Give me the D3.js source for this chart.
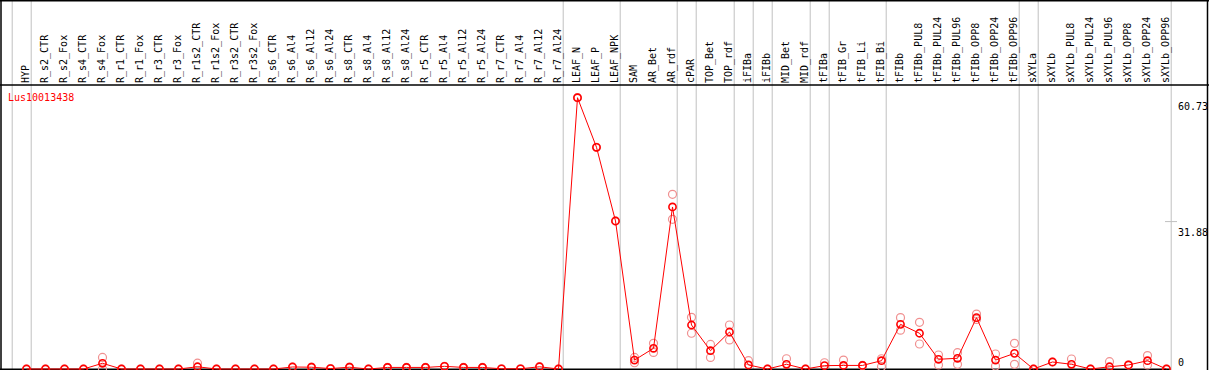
<!DOCTYPE html>
<html><head><meta charset="utf-8">
<script src="https://cdn.jsdelivr.net/npm/d3@7"></script>
<style>
html,body{margin:0;padding:0;background:#fff;}
svg{display:block;}
text{font-family:"DejaVu Sans Mono","Liberation Mono",monospace;font-size:10px;}
</style></head>
<body>
<svg id="c" width="1209" height="370"></svg>
<script>
const geneName = "Lus10013438";
const categories = ["HYP","R_s2_CTR","R_s2_Fox","R_s4_CTR","R_s4_Fox","R_r1_CTR","R_r1_Fox","R_r3_CTR","R_r3_Fox","R_r1s2_CTR","R_r1s2_Fox","R_r3s2_CTR","R_r3s2_Fox","R_s6_CTR","R_s6_Al4","R_s6_Al12","R_s6_Al24","R_s8_CTR","R_s8_Al4","R_s8_Al12","R_s8_Al24","R_r5_CTR","R_r5_Al4","R_r5_Al12","R_r5_Al24","R_r7_CTR","R_r7_Al4","R_r7_Al12","R_r7_Al24","LEAF_N","LEAF_P","LEAF_NPK","SAM","AR_Bet","AR_rdf","cPAR","TOP_Bet","TOP_rdf","iFIBa","iFIBb","MID_Bet","MID_rdf","tFIBa","tFIB_Gr","tFIB_Li","tFIB_Bi","tFIBb","tFIBb_PUL8","tFIBb_PUL24","tFIBb_PUL96","tFIBb_OPP8","tFIBb_OPP24","tFIBb_OPP96","sXYLa","sXYLb","sXYLb_PUL8","sXYLb_PUL24","sXYLb_PUL96","sXYLb_OPP8","sXYLb_OPP24","sXYLb_OPP96"];
const groupSizes = [1,28,3,3,1,2,1,1,2,1,3,7,1,7];
const means = [0,0,0,0,1.28,0,0,0,0,0.5,0,0,0,0,0.45,0.4,0.1,0.4,0,0.35,0.35,0.35,0.6,0.35,0.35,0.05,0.05,0.5,0,
  60.73,49.63,33.13, 2.0,4.63,36.27, 9.85, 4.1,8.28, 0.9, 0, 1.05,0, 0.75, 0.8,0.8,1.86,
  10.0,8.0,2.17,2.4,11.5,2.0,3.5, 0, 1.57,1.05,0,0.5,0.9,1.86,0];
const replicates = [[0],[0],[0],[0],[2.6,0],[0],[0],[0],[0],[1.3],[0],[0],[0],[0],[0.45],[0.4],[0.1],[0.4],[0],[0.35],[0.35],[0.35],[0.6],[0.35],[0.35],[0.05],[0.05],[0.5],[0],
  [60.73],[49.63],[33.13], [2.6,1.4],[5.75,3.7],[39.1,33.5], [11.57,8.0], [5.5,2.6],[9.85,6.5], [1.86],[0], [2.3],[0], [1.4], [2.0],[0.8],[2.3,0.5],
  [11.5,8.7],[10.45,5.6],[3.13,0.9],[3.65,1.05],[12.3,11.1],[3.36,0.67],[5.75,1.05], [0], [1.57],[2.24],[0],[1.64],[0.9],[3.0,0.9],[0]];
const yTicks = [60.73, 31.88, 0];

const svg = d3.select("#c");
const W = 1209, H = 370;
const headerY = 85, baseY = 369;

const x = d3.scalePoint().domain(categories).range([26.5, 1166.5]);
const step = x.step();
const y = d3.scaleLinear().domain([0, 60.73]).range([baseY, 97.7]);

// separators
const sepIdx = [-1];
let acc = 0;
groupSizes.forEach(s => { acc += s; sepIdx.push(acc - 1); });
svg.append("g").selectAll("line").data(sepIdx).join("line")
  .attr("x1", i => x(categories[0]) + i*step + 4.2 + 0.5)
  .attr("x2", i => x(categories[0]) + i*step + 4.2 + 0.5)
  .attr("y1", 0).attr("y2", H)
  .attr("stroke", "#c0c0c0").attr("stroke-width", 1);

// frame
const frame = svg.append("g").attr("stroke", "#000").attr("stroke-width", 1.5);
frame.append("line").attr("x1", 0).attr("x2", W).attr("y1", 0.75).attr("y2", 0.75);
frame.append("line").attr("x1", 0).attr("x2", W).attr("y1", headerY).attr("y2", headerY);
frame.append("line").attr("x1", 1).attr("x2", 1).attr("y1", 0).attr("y2", H);
frame.append("line").attr("x1", 1207.5).attr("x2", 1207.5).attr("y1", 0).attr("y2", H);
frame.append("line").attr("x1", 0).attr("x2", 1170).attr("y1", baseY + 0.25).attr("y2", baseY + 0.25);

// category labels
svg.append("g").selectAll("text").data(categories).join("text")
  .attr("transform", d => `translate(${x(d) + 2.5},83) rotate(-90)`)
  .attr("text-anchor", "start")
  .attr("fill", "#000")
  .text(d => d);

// gene name
svg.append("text").attr("x", 8).attr("y", 101).attr("fill", "#ff0000").text(geneName);

// y labels on right
const yLabOff = {"60.73": 12, "31.88": 9, "0": -3.5};
svg.append("g").selectAll("text").data(yTicks).join("text")
  .attr("x", 1178).attr("y", d => y(d) + yLabOff[String(d)])
  .attr("fill", "#000")
  .text(d => String(d));
svg.append("line").attr("x1", 1165).attr("x2", 1177)
  .attr("y1", y(31.88) - 5).attr("y2", y(31.88) - 5)
  .attr("stroke", "#c0c0c0");

// replicate points
const repData = [];
replicates.forEach((arr, i) => arr.forEach(v => repData.push({c: categories[i], v})));
svg.append("g").selectAll("circle").data(repData).join("circle")
  .attr("cx", d => x(d.c)).attr("cy", d => y(d.v)).attr("r", 4)
  .attr("fill", "none").attr("stroke", "#f09090").attr("stroke-width", 1.2);

// mean line
const pts = categories.map((c, i) => ({c, v: means[i]}));
svg.append("path").datum(pts)
  .attr("d", d3.line().x(d => x(d.c)).y(d => y(d.v)))
  .attr("fill", "none").attr("stroke", "#ff0000").attr("stroke-width", 1);

// mean points
svg.append("g").selectAll("circle").data(pts).join("circle")
  .attr("cx", d => x(d.c)).attr("cy", d => y(d.v)).attr("r", 3.6)
  .attr("fill", "none").attr("stroke", "#ff0000").attr("stroke-width", 1.6);
</script>
</body></html>
